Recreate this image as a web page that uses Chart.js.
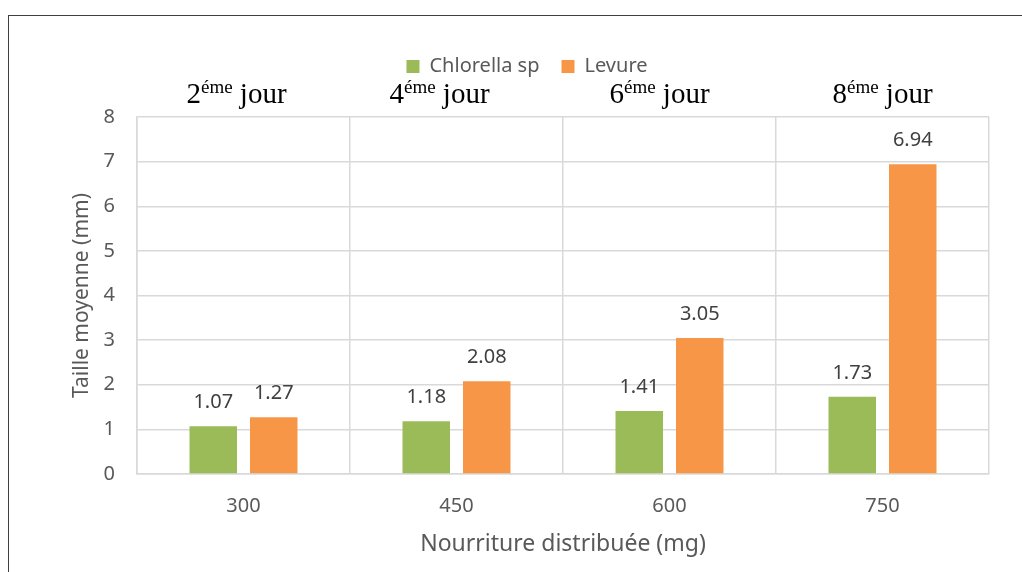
<!DOCTYPE html>
<html lang="fr">
<head>
  <meta charset="UTF-8" />
  <title>Taille moyenne selon la nourriture distribuée</title>
  <script src="https://cdn.jsdelivr.net/npm/chart.js"></script>
  <style>
    body {
      margin: 0;
      background: #fff;
      overflow: hidden;
    }

    #wrap {
      position: relative;
      width: 1022px;
      height: 572px;
    }

    #cadre {
      position: absolute;
      left: 8px;
      top: 15px;
      width: 1100px;
      height: 700px;
      border: 1.5px solid #3f3f3f;
      pointer-events: none;
    }
  </style>
</head>
<body>
  <div id="wrap">
    <canvas id="graph"></canvas>
    <div id="cadre"></div>
  </div>

  <script>
    // données
    const nourriture = ['300', '450', '600', '750'];
    const jours = ['2', '4', '6', '8'];
    const chlorella = [1.07, 1.18, 1.41, 1.73];
    const levure = [1.27, 2.08, 3.05, 6.94];
    const yTicks = [0, 1, 2, 3, 4, 5, 6, 7, 8];

    const sans = "'Noto Sans', 'Open Sans', sans-serif";
    const gris = '#595959';
    const grille = '#d9d9d9';

    // étiquettes de valeur au-dessus des barres
    const valeurs = {
      id: 'valeurs',
      afterDatasetsDraw(chart) {
        const ctx = chart.ctx;
        ctx.save();
        ctx.font = '20px ' + sans;
        ctx.fillStyle = '#404040';
        ctx.textAlign = 'center';
        ctx.textBaseline = 'middle';
        chart.data.datasets.forEach((ds, i) => {
          chart.getDatasetMeta(i).data.forEach((bar, j) => {
            ctx.fillText(ds.data[j].toFixed(2), bar.x, bar.y - 24);
          });
        });
        ctx.restore();
      }
    };

    // "2ème jour" etc. au-dessus de chaque groupe
    const decalages = [-7, -17, -10, 0];
    const joursPlugin = {
      id: 'jours',
      afterDraw(chart) {
        const ctx = chart.ctx;
        const x = chart.scales.x;
        const grand = "29px 'Liberation Serif', 'Times New Roman', serif";
        const petit = "19px 'Liberation Serif', 'Times New Roman', serif";
        const base = 103;
        ctx.save();
        ctx.fillStyle = '#000';
        ctx.textBaseline = 'alphabetic';
        ctx.textAlign = 'left';
        jours.forEach((j, i) => {
          ctx.font = grand;
          const w1 = ctx.measureText(j).width;
          const w3 = ctx.measureText(' jour').width;
          ctx.font = petit;
          const w2 = ctx.measureText('éme').width;
          const cx = x.getPixelForValue(i) + decalages[i];
          let px = cx - (w1 + w2 + w3) / 2;
          ctx.font = grand;
          ctx.fillText(j, px, base);
          px += w1;
          ctx.font = petit;
          ctx.fillText('éme', px, base - 10);
          px += w2;
          ctx.font = grand;
          ctx.fillText(' jour', px, base);
        });
        ctx.restore();
      }
    };

    new Chart(document.getElementById('graph'), {
      type: 'bar',
      data: {
        labels: nourriture,
        datasets: [
          {
            label: 'Chlorella sp',
            data: chlorella,
            backgroundColor: '#9bbb59',
            categoryPercentage: 0.568,
            barPercentage: 0.785
          },
          {
            label: 'Levure',
            data: levure,
            backgroundColor: '#f79646',
            categoryPercentage: 0.568,
            barPercentage: 0.785
          }
        ]
      },
      options: {
        responsive: true,
        maintainAspectRatio: false,
        animation: false,
        layout: {
          padding: { left: 65, right: 33, top: 34.5, bottom: 10 }
        },
        scales: {
          x: {
            position: 'bottom',
            grid: { color: grille, lineWidth: 1.5, drawTicks: false },
            border: { color: grille, width: 1.5 },
            ticks: { color: gris, font: { family: sans, size: 20 }, padding: 20 },
            title: {
              display: true,
              text: 'Nourriture distribuée (mg)',
              color: gris,
              font: { family: sans, size: 23 }
            },
            afterFit(s) { s.height = 88; }
          },
          xHaut: {
            type: 'category',
            position: 'top',
            labels: nourriture,
            grid: { display: false },
            border: { display: false },
            ticks: { display: false },
            afterFit(s) { s.height = 30.5; }
          },
          y: {
            min: 0,
            max: 8,
            afterBuildTicks(s) { s.ticks = yTicks.map(v => ({ value: v })); },
            grid: { color: grille, lineWidth: 1.5, drawTicks: false },
            border: { color: grille, width: 1.5 },
            ticks: { color: gris, font: { family: sans, size: 20 }, padding: 22 },
            title: {
              display: true,
              text: 'Taille moyenne (mm)',
              color: gris,
              font: { family: sans, size: 21 }
            },
            afterFit(s) { s.width = 72; }
          }
        },
        plugins: {
          legend: {
            position: 'top',
            labels: {
              boxWidth: 13,
              boxHeight: 13,
              padding: 22,
              color: gris,
              font: { family: sans, size: 20 }
            }
          },
          tooltip: { enabled: false }
        }
      },
      plugins: [valeurs, joursPlugin]
    });
  </script>
</body>
</html>
